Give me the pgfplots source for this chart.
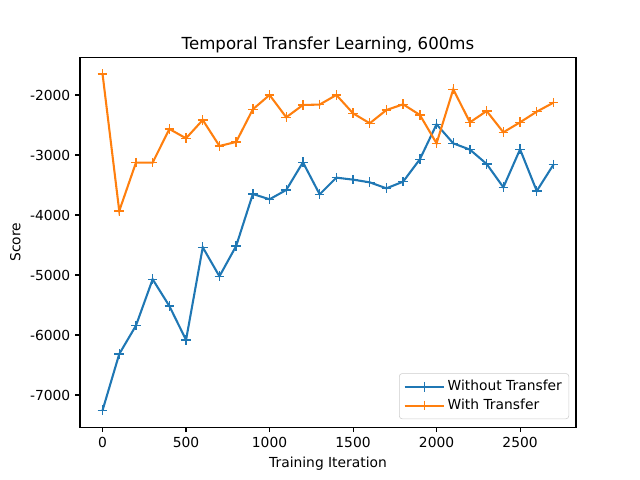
\documentclass[border=0pt]{standalone}
\usepackage{pgfplots}
\pgfplotsset{compat=1.18}
\usepackage{fontspec}
\setmainfont{DejaVu Sans}
\definecolor{mplblue}{HTML}{1F77B4}
\definecolor{mplorange}{HTML}{FF7F0E}
\begin{document}
\begin{tikzpicture}
\useasboundingbox (0,0) rectangle (6.4in,4.8in);
\begin{axis}[
  at={(0.8in,0.528in)}, anchor=south west,
  scale only axis, width=4.96in, height=3.696in,
  xmin=-135, xmax=2835, ymin=-7537, ymax=-1377,
  xtick={0,500,1000,1500,2000,2500},
  ytick={-7000,-6000,-5000,-4000,-3000,-2000},
  scaled ticks=false,
  /pgf/number format/assume math mode=true,
  /pgf/number format/1000 sep={},
  tick align=outside, tick pos=left,
  major tick length=3.5pt,
  tick style={black, line width=0.8pt},
  axis line style={line width=0.8pt},
  ticklabel style={font=\fontsize{10}{12}\selectfont},
  xlabel={Training Iteration}, ylabel={Score},
  label style={font=\fontsize{10}{12}\selectfont},
  title={Temporal Transfer Learning, 600ms},
  title style={font=\fontsize{12}{14}\selectfont, yshift=-6pt},
  legend style={font=\fontsize{10}{12}\selectfont, draw=black!20, rounded corners=2pt, row sep=0.5pt, inner sep=3pt, at={(0.986,0.022)}, anchor=south east},
  legend cell align=left,
  legend image code/.code={\draw[mark repeat=2,mark phase=2,#1] plot coordinates {(0cm,0cm) (0.5cm,0cm) (1cm,0cm)};},
]
\addplot[mplblue, line width=1.5pt, mark=+, mark size=3.5pt, mark options={line width=1pt}] coordinates {
(0,-7256) (100,-6317) (200,-5844) (300,-5072) (400,-5517) (500,-6083)
(600,-4539) (700,-5022) (800,-4517) (900,-3650) (1000,-3739) (1100,-3583)
(1200,-3122) (1300,-3656) (1400,-3378) (1500,-3411) (1600,-3456) (1700,-3556)
(1800,-3444) (1900,-3072) (2000,-2489) (2100,-2806) (2200,-2911) (2300,-3150)
(2400,-3539) (2500,-2906) (2600,-3600) (2700,-3161)
};
\addlegendentry{Without Transfer}
\addplot[mplorange, line width=1.5pt, mark=+, mark size=3.5pt, mark options={line width=1pt}] coordinates {
(0,-1650) (100,-3933) (200,-3128) (300,-3128) (400,-2567) (500,-2722)
(600,-2417) (700,-2850) (800,-2783) (900,-2239) (1000,-2000) (1100,-2372)
(1200,-2167) (1300,-2160) (1400,-2000) (1500,-2306) (1600,-2472) (1700,-2250)
(1800,-2156) (1900,-2333) (2000,-2806) (2100,-1906) (2200,-2456) (2300,-2267)
(2400,-2622) (2500,-2456) (2600,-2278) (2700,-2128)
};
\addlegendentry{With Transfer}
\end{axis}
\end{tikzpicture}
\end{document}
